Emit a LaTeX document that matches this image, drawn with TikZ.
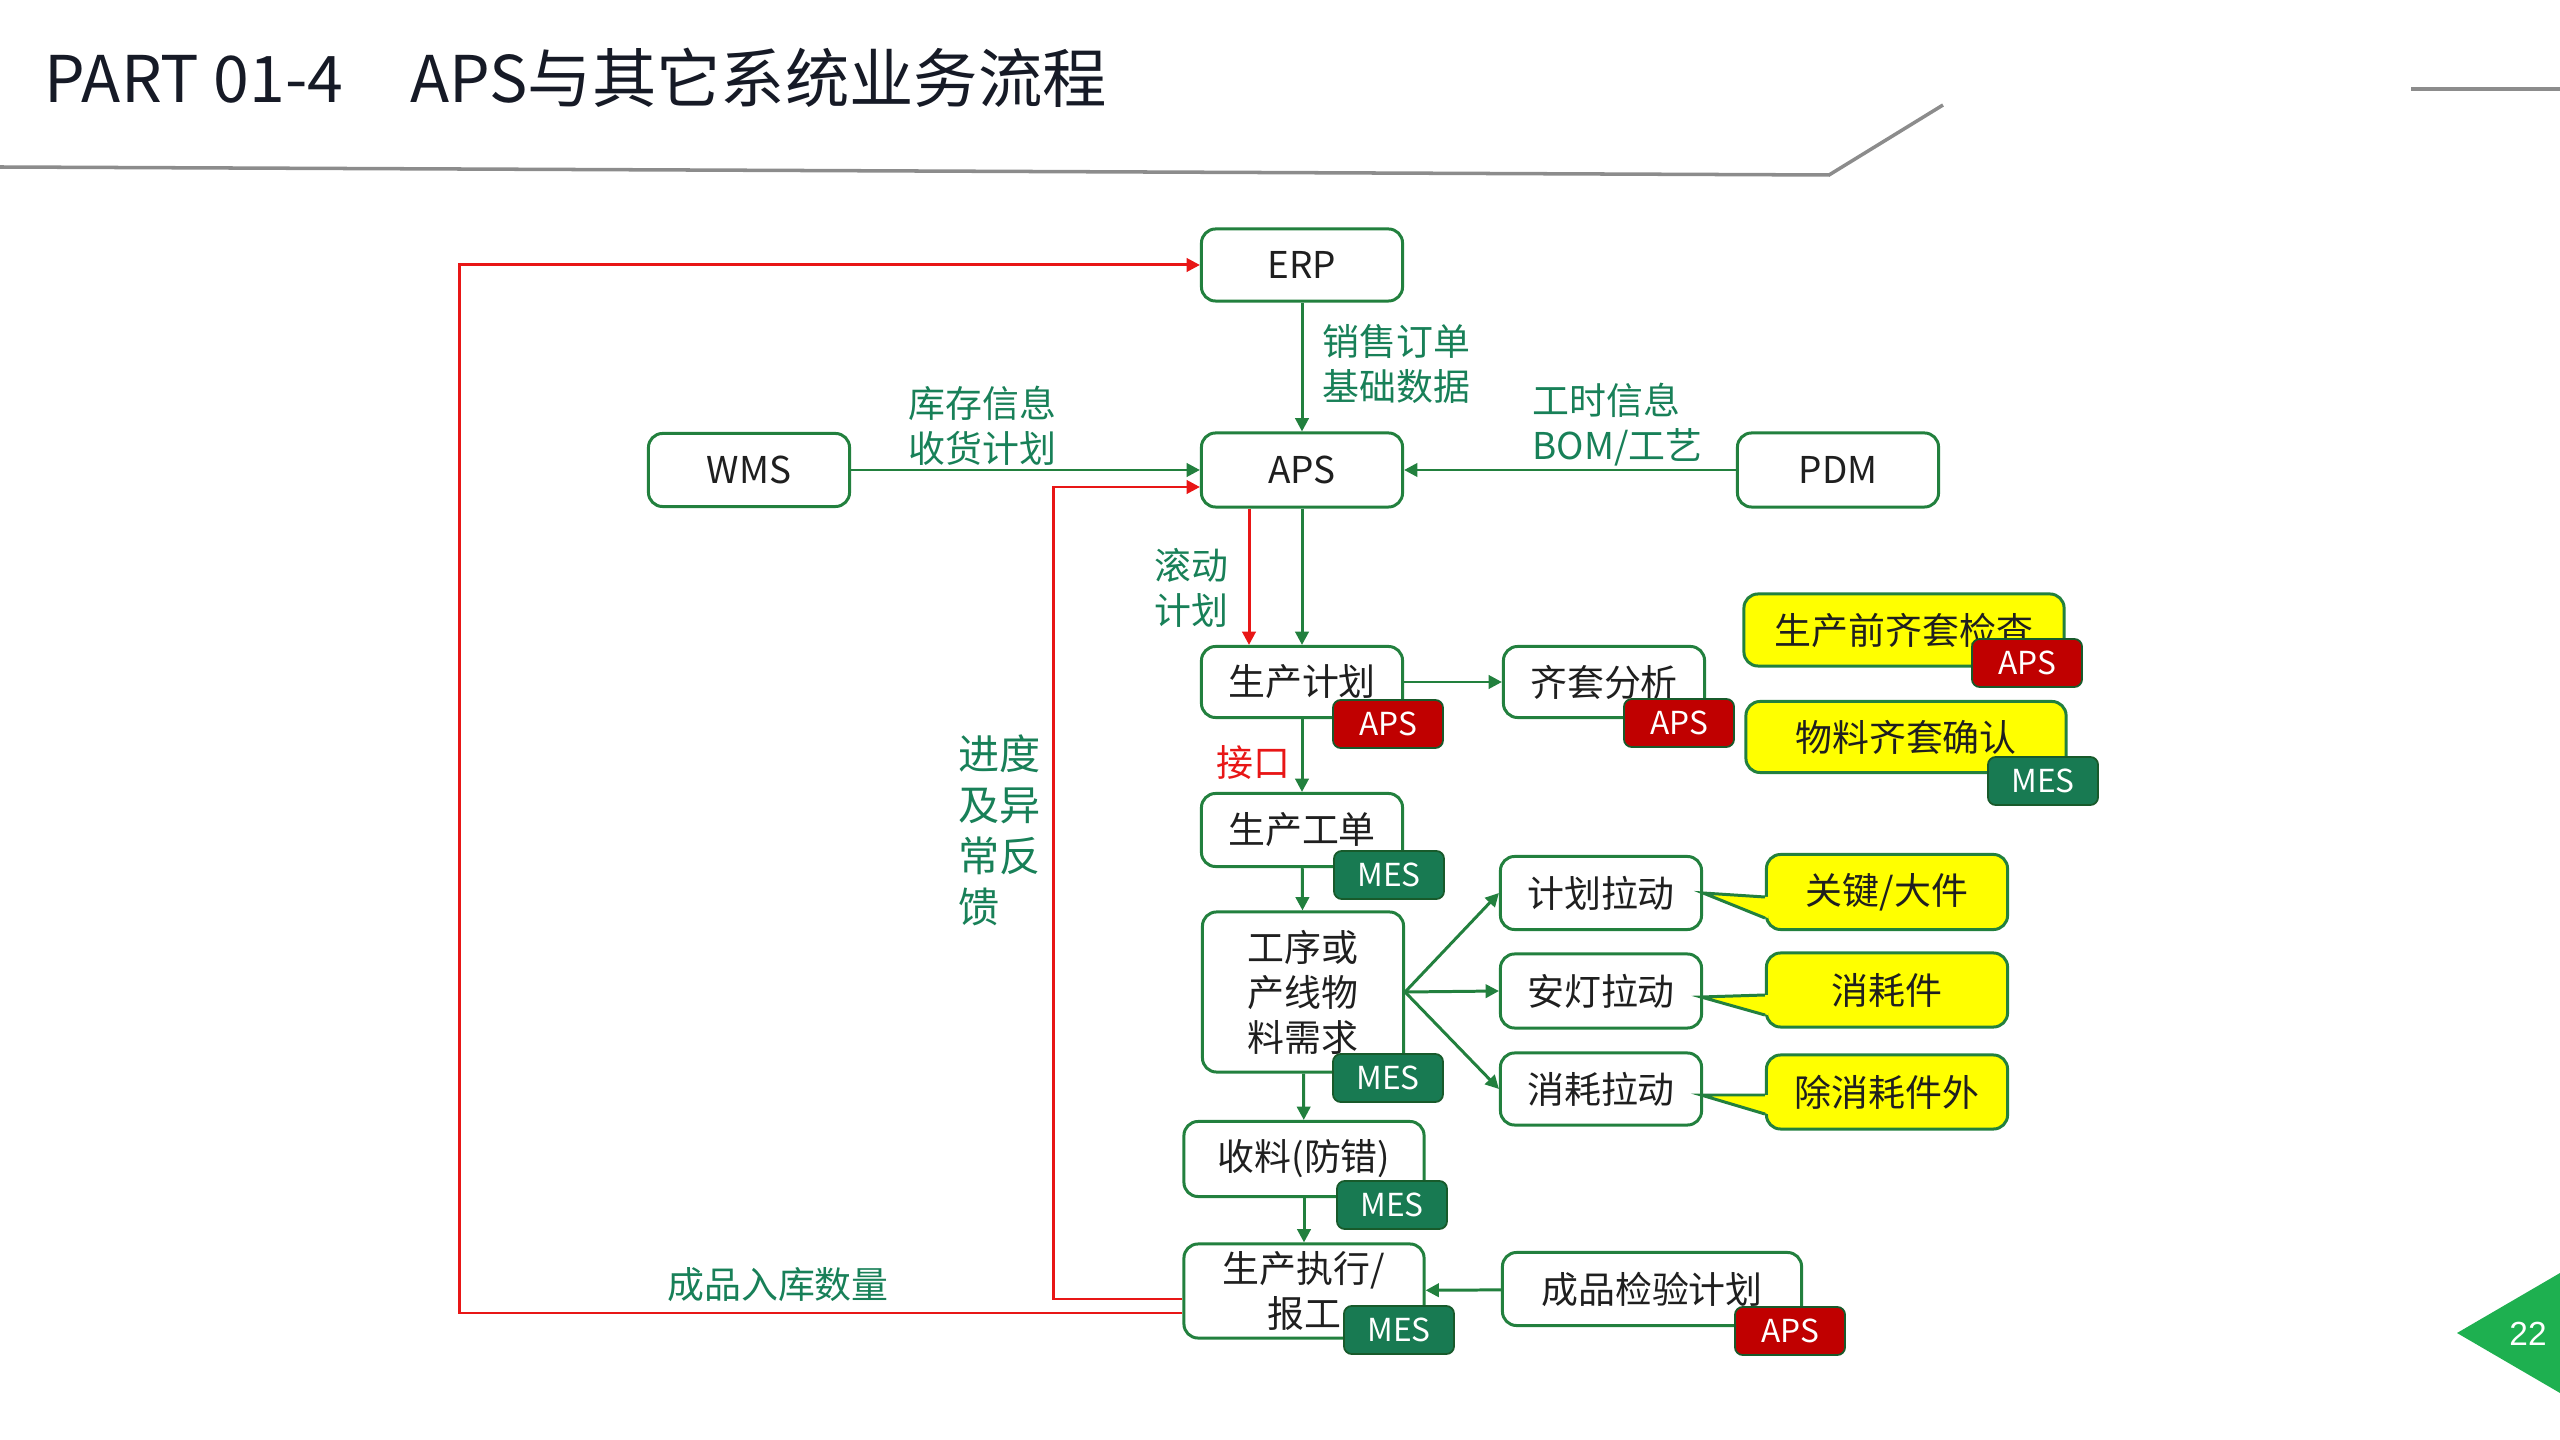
\documentclass[tikz,border=0pt]{standalone}
\usepackage{fontspec}
\setmainfont{Noto Sans CJK SC}
\newfontfamily\numfont{Liberation Sans}
\usetikzlibrary{arrows.meta,calc}
\definecolor{boxgreen}{RGB}{34,128,62}
\definecolor{textgreen}{RGB}{24,128,88}
\definecolor{mesgreen}{RGB}{24,122,82}
\definecolor{apsred}{RGB}{192,0,0}
\definecolor{linered}{RGB}{232,22,22}
\definecolor{notefill}{RGB}{255,255,0}
\definecolor{pagegreen}{RGB}{30,176,80}
\definecolor{titleink}{RGB}{22,26,38}
\definecolor{rulegray}{RGB}{140,140,140}

\begin{document}
\begin{tikzpicture}[x=0.01cm,y=-0.01cm]
\tikzset{
  flowbox/.style={rectangle,rounded corners=4pt,draw=boxgreen,line width=0.85pt,fill=white,text=black!88,font=\fontsize{10.5}{12.8}\selectfont,align=center,inner sep=0pt,minimum width=20.1mm,minimum height=7.2mm},
  notebox/.style={flowbox,fill=notefill},
  tagbox/.style={rectangle,rounded corners=2.2pt,draw=boxgreen!70!black,line width=0.5pt,text=white,font=\fontsize{9}{10}\selectfont,inner sep=0pt,minimum width=11mm,minimum height=4.8mm},
  tagaps/.style={tagbox,fill=apsred},
  tagmes/.style={tagbox,fill=mesgreen},
  flowedge/.style={draw=boxgreen,line width=0.85pt,-{Triangle[length=3.8pt,width=3.8pt]}},
  feedback/.style={draw=linered,line width=0.85pt,-{Triangle[length=3.8pt,width=3.8pt]}},
  linklabel/.style={text=textgreen,font=\fontsize{10.5}{12.8}\selectfont,align=left,inner sep=0pt}
}
\useasboundingbox (0,0) rectangle (2560,1440);
% title bar
\node[anchor=west,inner sep=0pt,text=titleink,font=\fontsize{18.3}{20}\selectfont] (n_TITLE) at (44,78) {PART 01-4\hspace{19pt}APS与其它系统业务流程};
\draw[rulegray,line width=1pt] (0,167) -- (1829,175) -- (1943,105);
\draw[rulegray,line width=1pt] (2411,89) -- (2560,89);
% page number
\fill[pagegreen] (2457,1333) -- (2560,1273) -- (2560,1393) -- cycle;
\node[text=white,font=\numfont\fontsize{9.5}{10}\selectfont] (n_PAGE) at (2528,1334) {22};

% systems
\node[flowbox] (n_ERP) at (1302,265) {ERP};
\node[flowbox,minimum height=7.4mm] (n_APS) at (1302,470) {APS};
\node[flowbox,minimum height=7.3mm] (n_WMS) at (749,470) {WMS};
\node[flowbox,minimum height=7.4mm] (n_PDM) at (1838,470) {PDM};

% flow
\node[flowbox,minimum height=7.1mm] (n_PLAN) at (1302,682) {生产计划};
\node[flowbox,minimum height=7.1mm] (n_KIT) at (1604,682) {齐套分析};
\node[flowbox,minimum height=7.3mm] (n_ORDER) at (1302,830) {生产工单};
\node[flowbox,minimum height=16mm] (n_DEMAND) at (1303,992) {工序或\\产线物\\料需求};
\node[flowbox,minimum height=7.3mm] (n_PULL1) at (1601,893) {计划拉动};
\node[flowbox,minimum height=7.4mm] (n_PULL2) at (1601,991) {安灯拉动};
\node[flowbox,minimum height=7.2mm] (n_PULL3) at (1601,1089) {消耗拉动};
\node[flowbox,minimum width=24mm,minimum height=7.5mm] (n_RECV) at (1304,1159) {收料(防错)};
\node[flowbox,minimum width=24mm,minimum height=9.4mm] (n_EXEC) at (1304,1291) {生产执行/\\报工};
\node[flowbox,minimum width=29.9mm,minimum height=7.3mm] (n_CHECK) at (1652,1289) {成品检验计划};

% notes
\node[notebox,minimum width=32mm] (n_PRE) at (1904,630) {生产前齐套检查};
\node[notebox,minimum width=32mm,minimum height=7.1mm] (n_CONF) at (1906,737) {物料齐套确认};
\node[notebox,minimum width=24.1mm,minimum height=7.5mm] (n_KEY) at (1887,892) {关键/大件};
\node[notebox,minimum width=24.1mm,minimum height=7.4mm] (n_CONS) at (1887,990) {消耗件};
\node[notebox,minimum width=24.1mm,minimum height=7.4mm] (n_XCONS) at (1887,1092) {除消耗件外};

% note pointers
\fill[notefill] ($(n_KEY.west)+(3,5)$) -- (n_PULL1.east) -- ($(n_KEY.west)+(3,26)$) -- cycle;
\draw[boxgreen,line width=0.85pt] ($(n_KEY.west)+(0,5)$) -- (n_PULL1.east) -- ($(n_KEY.west)+(0,26)$);
\fill[notefill] ($(n_CONS.west)+(3,5)$) -- ($(n_PULL2.east)+(-2,6)$) -- ($(n_CONS.west)+(3,25)$) -- cycle;
\draw[boxgreen,line width=0.85pt] ($(n_CONS.west)+(0,5)$) -- ($(n_PULL2.east)+(-2,6)$) -- ($(n_CONS.west)+(0,25)$);
\fill[notefill] ($(n_XCONS.west)+(3,3)$) -- ($(n_PULL3.east)+(-2,6)$) -- ($(n_XCONS.west)+(3,22)$) -- cycle;
\draw[boxgreen,line width=0.85pt] ($(n_XCONS.west)+(0,3)$) -- ($(n_PULL3.east)+(-2,6)$) -- ($(n_XCONS.west)+(0,22)$);

% tags
\node[tagaps] (t_PLAN) at (1388,724) {APS};
\node[tagaps] (t_KIT) at (1679,723) {APS};
\node[tagaps] (t_PRE) at (2027,663) {APS};
\node[tagmes] (t_CONF) at (2043,781) {MES};
\node[tagmes] (t_ORDER) at (1389,875) {MES};
\node[tagmes] (t_DEMAND) at (1388,1078) {MES};
\node[tagmes] (t_RECV) at (1392,1205) {MES};
\node[tagmes] (t_EXEC) at (1399,1330) {MES};
\node[tagaps] (t_CHECK) at (1790,1331) {APS};

% green links
\draw[flowedge] (n_ERP) -- (n_APS);
\draw[flowedge] (n_WMS) -- (n_APS);
\draw[flowedge] (n_PDM) -- (n_APS);
\draw[flowedge] (n_APS) -- (n_PLAN);
\draw[flowedge] (n_PLAN) -- (n_KIT);
\draw[flowedge] (n_PLAN) -- (n_ORDER);
\draw[flowedge] (n_ORDER) -- (n_DEMAND);
\draw[flowedge] (n_DEMAND.east) -- (n_PULL1.west);
\draw[flowedge] (n_DEMAND.east) -- (n_PULL2.west);
\draw[flowedge] (n_DEMAND.east) -- (n_PULL3.west);
\draw[flowedge] (n_DEMAND) -- (n_RECV);
\draw[flowedge] (n_RECV) -- (n_EXEC);
\draw[flowedge] (n_CHECK) -- (n_EXEC);

% red links
\draw[feedback] ($(n_APS.south)+(-53,0)$) -- ($(n_PLAN.north)+(-53,0)$);
\draw[feedback] ($(n_EXEC.west)+(0,22)$) -- ++(-723,0) |- (n_ERP.west);
\draw[feedback] ($(n_EXEC.west)+(0,8)$) -- ++(-129,0) |- ($(n_APS.west)+(0,17)$);

% labels
\node[linklabel,anchor=west] (l_ERP) at (1322,364) {销售订单\\基础数据};
\node[linklabel,anchor=west] (l_PDM) at (1532,425) {工时信息\\BOM/工艺};
\node[linklabel,anchor=west] (l_WMS) at (908,426) {库存信息\\收货计划};
\node[linklabel,anchor=west] (l_ROLL) at (1154,588) {滚动\\计划};
\node[linklabel,anchor=west,text=linered] (l_API) at (1216,763) {接口};
\node[linklabel,anchor=west,font=\fontsize{11.7}{14.5}\selectfont] (l_BACK) at (958,830) {进度\\及异\\常反\\馈};
\node[linklabel] (l_STOCK) at (778,1285) {成品入库数量};
\end{tikzpicture}
\end{document}
